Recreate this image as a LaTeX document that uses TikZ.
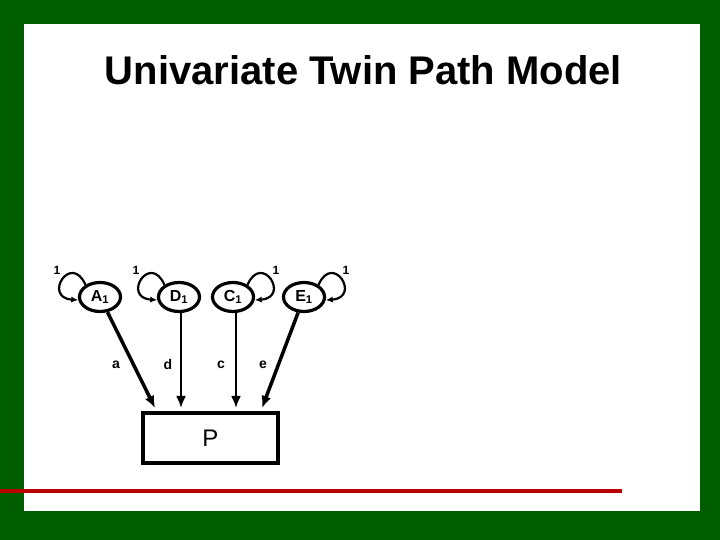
\documentclass[tikz,border=0pt]{standalone}
\usepackage{fontspec}
\setmainfont{Liberation Sans}
\usepackage{tikz}
\usetikzlibrary{shapes.geometric,arrows.meta}

\definecolor{slidegreen}{RGB}{0,94,0}
\definecolor{rulered}{RGB}{185,0,0}

\begin{document}
\begin{tikzpicture}[x=1pt,y=1pt,
    latent/.style={draw,ellipse,line width=3.2pt,minimum width=41pt,minimum height=29pt,inner sep=0pt,
      font=\fontsize{16}{18}\selectfont\bfseries},
    pathline/.style={line width=2.2pt,-{Latex[length=12pt,width=10pt]}},
    selfloop/.style={line width=2.2pt,-{Latex[length=7pt,width=6pt]},min distance=36pt},
    coef/.style={font=\fontsize{14}{16}\selectfont\bfseries},
    one/.style={font=\fontsize{12}{14}\selectfont\bfseries}]
          % slide frame
          \fill[slidegreen] (0,0) rectangle (720,540);
          \useasboundingbox (0,0) rectangle (720,540);
          \fill[white] (24,29) rectangle (700,516);
          \draw[rulered,line width=4.5pt] (0,49) -- (622,49);
          \node[font=\fontsize{40}{46}\selectfont\bfseries] (title) at (363.5,470) {Univariate Twin Path Model};
          % latent factors
          \node[latent] (A1) at (100,243) {A\textsubscript{1}};
          \node[latent] (D1) at (179,243) {D\textsubscript{1}};
          \node[latent] (C1) at (233,243) {C\textsubscript{1}};
          \node[latent] (E1) at (304,243) {E\textsubscript{1}};
          % phenotype
          \node[draw,line width=3.2pt,minimum width=135pt,minimum height=50pt,
            font=\fontsize{24}{28}\selectfont] (P) at (210.5,102) {P};
          \coordinate (ta) at (155,132);
          \coordinate (td) at (181,132);
          \coordinate (tc) at (236,132);
          \coordinate (te) at (262,132);
          \draw[pathline,line width=3.5pt] (A1) -- (ta);
          \draw[pathline] (D1.south -| td) -- (td);
          \draw[pathline] (C1.south -| tc) -- (tc);
          \draw[pathline,line width=3.5pt] (E1) -- (te);
          \node[coef] (a) at (116,175) {a};
          \node[coef] (d) at (168,175) {d};
          \node[coef] (c) at (221,175) {c};
          \node[coef] (e) at (263,175) {e};
          % variances
          \draw[selfloop] (A1.140) to[out=114,in=176] (A1.188);
          \draw[selfloop] (D1.140) to[out=114,in=176] (D1.188);
          \draw[selfloop] (C1.40) to[out=66,in=4] (C1.-8);
          \draw[selfloop] (E1.40) to[out=66,in=4] (E1.-8);
          \node[one] (vA) at (57,270) {1};
          \node[one] (vD) at (136,270) {1};
          \node[one] (vC) at (276,270) {1};
          \node[one] (vE) at (346,270) {1};
        \end{tikzpicture}
\end{document}
